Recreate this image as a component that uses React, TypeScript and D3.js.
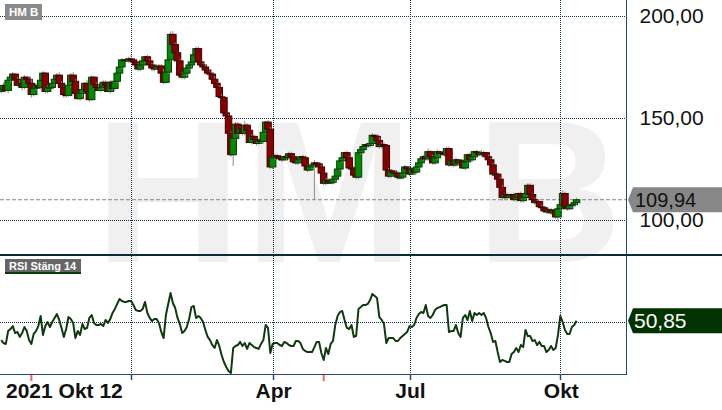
import React from "react";
import * as d3 from "d3";

// ---- data (daily, 2021-10-12 .. 2022-10-12) ----
const firstOpen = 163;
const closes = [
  164, 166, 163.5, 168.5, 170, 171.5, 169, 166, 167, 165,
  170, 169, 167, 161.5, 164.5, 166, 165, 168.5, 172, 163,
  165, 165, 167, 169, 171, 167, 165, 161.5, 161, 166,
  171, 168, 162, 159.5, 162, 164, 167, 163, 159, 170,
  166.5, 165, 163.5, 165, 167.5, 166, 163, 167.5, 164.5, 168,
  172, 175, 178.5, 178.5, 178, 179, 178.5, 177.5, 176, 174,
  176, 178, 180, 178, 176, 174.5, 174, 175, 175.5, 172,
  167.5, 172.5, 178.5, 191, 186, 182, 178, 171, 170, 172,
  174.5, 176, 177.5, 181, 184, 177.5, 176, 175, 173.5, 172,
  171.5, 169, 167, 165, 160.5, 160, 152.5, 151, 142.5, 132,
  140, 147, 142.5, 145, 142.5, 146.5, 144, 138, 141, 139.5,
  137.5, 139, 138.5, 143, 148, 144.5, 126, 130.5, 131.5, 131,
  130, 129.5, 131, 130.5, 132.5, 131, 128.5, 128, 129.5, 131,
  130.5, 126.5, 124.5, 126, 127, 128, 127.5, 126, 123, 118,
  119.5, 118.5, 118.5, 120, 121.5, 125, 129, 130.5, 133, 130.5,
  125.5, 125.5, 122, 121, 133, 134.5, 136, 137, 136.5, 137.5,
  141.5, 141, 139, 136, 137, 136.5, 124.5, 121.5, 124, 123,
  123, 121, 121, 123, 126, 125, 122.5, 125, 123.5, 126,
  128, 130, 131, 130, 133.5, 131, 128, 130.5, 133.5, 132.5,
  133, 132, 135, 127, 129, 127, 129.5, 128, 129, 125.5,
  128.5, 132, 129.5, 131, 133.5, 133, 132, 133, 133, 131,
  129.5, 127, 122.5, 122.5, 120, 116, 111, 112.5, 111, 112,
  112.5, 110, 111, 113, 109.5, 111, 113, 117, 112.5, 110,
  108.5, 109, 106.5, 106, 104.5, 104, 105, 103.5, 104.5, 101.5,
  105.5, 107.5, 113, 106.5, 105.5, 107, 107.5, 108.5, 109.94,
];
const wickUp = [
  1, 1.5, 0.5, 1, 2, 1, 0.5, 1, 1.5, 1, 1, 0.5, 1, 2, 0.5, 1, 1, 1.5, 1, 0.5, 1, 1.5, 1, 0.5, 1,
  1.5, 1, 0.5, 1, 2, 1, 1.5, 1, 0.5, 1, 1, 0.5, 1.5, 1, 1, 0.5, 1, 1.5, 0.5, 1, 1, 2, 1, 0.5, 1,
  1, 1.5, 1, 0.5, 1, 1, 2, 1, 0.5, 1, 1, 1.5, 0.5, 1, 1, 1, 0.5, 1.5, 1, 1, 2, 1, 1, 1.5, 1.5,
  1, 0.5, 1, 1.5, 1, 1, 0.5, 1, 1.5, 1, 1, 0.5, 1, 1, 0.5, 1, 1, 1.5, 0.5, 1, 1, 1, 0.5, 1, 1,
  1.5, 1, 1, 0.5, 1, 2, 1, 0.5, 1, 1, 0.5, 1, 1.5, 1, 0.5, 1, 1, 0.5, 1, 1, 0.5, 1, 1, 0.5, 1,
  1, 0.5, 1, 1, 0.5, 1, 1, 0.5, 1, 1, 1.5, 0.5, 1, 1, 0.5, 1, 1, 1.5, 1, 0.5, 1, 1, 1, 0.5, 1,
  1, 0.5, 1, 1, 1, 1.5, 1, 0.5, 1, 1, 1, 0.5, 1, 1.5, 1, 1, 0.5, 1, 1, 0.5, 1, 1, 0.5, 1, 1,
  0.5, 1, 1, 0.5, 1, 1, 0.5, 1, 1, 1.5, 1, 1, 1.5, 1, 0.5, 1, 2, 1, 1, 0.5, 1, 1, 0.5, 1, 1,
  1, 0.5, 1, 1, 0.5, 1, 1, 1.5, 1, 0.5, 1, 1, 1, 0.5, 1, 1, 1, 0.5, 1, 1, 0.5, 1, 1, 0.5, 1,
  1, 1.5, 1, 1, 0.5, 1, 1, 0.5, 1, 1, 0.5, 1, 1, 0.5, 1, 1, 1, 1.5, 1, 0.5, 1, 1, 0.5, 1,
];
const wickDn = [
  1, 0.5, 1, 1.5, 1, 1, 1, 0.5, 1, 1.5, 1, 1, 0.5, 1.5, 1, 1, 0.5, 1, 1.5, 1, 1, 0.5, 1, 1, 0.5,
  1, 1, 1.5, 1, 0.5, 1, 1, 1, 0.5, 1, 1.5, 1, 1, 1, 0.5, 1, 1, 0.5, 1, 1, 1, 0.5, 1, 1, 1.5,
  1, 0.5, 1, 1, 0.5, 1, 1, 0.5, 1, 1, 1, 0.5, 1, 1, 1, 1.5, 1, 0.5, 1, 1, 1, 0.5, 1, 1, 1,
  1, 1, 0.5, 1, 1, 1.5, 1, 1, 0.5, 1, 1, 1, 0.5, 1, 1, 1, 0.5, 1, 1, 1, 1, 0.5, 1, 1, 1,
  5.5, 1, 1, 0.5, 1, 1, 1, 0.5, 1, 1, 1, 0.5, 1, 1, 1, 0.5, 1, 1, 1, 0.5, 1, 1, 0.5, 1, 1,
  1, 0.5, 1, 1, 0.5, 1, 1, 1, 0.5, 1, 17, 1, 1, 0.5, 1, 1, 0.5, 1, 1, 1, 0.5, 1, 1, 1, 1,
  1, 0.5, 1, 1, 1, 1, 0.5, 1, 1, 1, 1, 0.5, 1, 1, 1, 1, 0.5, 1, 1, 1, 0.5, 1, 1, 1, 1,
  1, 1, 0.5, 1, 1, 1, 0.5, 1, 1, 1, 0.5, 1, 1, 1, 1, 0.5, 1, 1, 1, 0.5, 1, 1, 1, 1, 0.5,
  1, 1, 0.5, 1, 1, 1, 0.5, 1, 1, 1, 0.5, 1, 1, 1, 1, 0.5, 1.5, 1, 1, 0.5, 1, 1, 1, 0.5, 1,
  1, 1, 1, 0.5, 1, 1, 1, 0.5, 1, 1, 1, 0.5, 1, 1, 1, 2.5, 1, 1, 1, 1, 0.5, 1, 1, 1,
];
const rsi = [
  40.4, 38.8, 38.3, 45.3, 46.4, 48, 44.2, 44.8, 42.1, 44.2,
  47.5, 45.3, 40.4, 38.3, 43.7, 45.3, 48, 53.5, 43.2, 48,
  50.2, 47.5, 50.2, 52.4, 54.5, 51.3, 47, 42.1, 46.4, 52.9,
  51.8, 49.7, 41.5, 45.3, 43.2, 49.1, 46.4, 47, 52.4, 54,
  49.7, 48.6, 48.6, 49.1, 48, 51.3, 49.7, 51.8, 55.1, 57.3,
  60, 62.7, 61.6, 61.1, 61.1, 61.6, 61.6, 59.4, 56.7, 56.2,
  56.2, 57.3, 61.1, 55.1, 52.4, 50.7, 51.8, 51.8, 49.7, 44.8,
  41.5, 54, 60, 65.9, 60.5, 57.8, 52.4, 49.1, 44.2, 45.3,
  47.5, 51.8, 58.3, 58.9, 52.4, 53.5, 52.4, 50.2, 45.9, 42.1,
  40.4, 37.7, 36.1, 40.4, 37.2, 32.3, 28.5, 25.8, 23.6, 22.5,
  36.1, 37.2, 37.7, 39.4, 37.2, 38.8, 35.6, 38.8, 37.7, 36.6,
  36.1, 35.6, 38.3, 40.4, 48.6, 47, 33.4, 38.3, 38.8, 38.8,
  37.7, 37.2, 39.4, 38.8, 37.7, 37.2, 37.2, 39.9, 39.9, 38.8,
  35.6, 34.5, 33.9, 33.9, 33.9, 36.6, 39.4, 39.4, 33.4, 29.6,
  36.1, 32.8, 38.3, 39.9, 48.6, 53.5, 55.6, 56.2, 51.3, 47,
  46.4, 48.6, 42.1, 42.6, 57.3, 58.3, 59.4, 59.4, 60, 62.1,
  65.4, 64.3, 63.2, 52.9, 51.3, 49.1, 38.8, 41.5, 41.5, 41.5,
  39.9, 39.9, 41.5, 42.6, 43.7, 44.8, 48, 47.5, 48.6, 52.4,
  54.5, 55.6, 55.1, 59.4, 53.5, 52.4, 54, 56.7, 57.8, 58.3,
  58.9, 59.4, 59.4, 44.8, 45.3, 45.3, 48.6, 44.2, 42.1, 52.4,
  54, 51.3, 56.2, 50.7, 55.1, 54, 55.1, 54, 55.1, 52.4,
  47.5, 44.2, 39.4, 39.9, 33.9, 28.5, 29.6, 29.1, 28.5, 28.5,
  32.8, 33.9, 36.1, 33.9, 37.7, 36.6, 45.9, 42.6, 42.6, 39.9,
  40.4, 37.7, 39.4, 37.2, 37.2, 33.9, 35, 37.2, 35, 36.1,
  43.2, 53.5, 50.2, 45.9, 43.7, 43.7, 47.5, 48.6, 50.85,
];
const priceTicks = [100, 150, 200];
const rsiGridValue = 50;
const monthTickIdx = [56, 117, 176, 241];
const monthTickLabels = ["", "Apr", "Jul", "Okt"];
const markerIdx = [13, 139];
const startLabel = "2021 Okt 12";
const title = "HM B";
const rsiTitle = "RSI Stäng 14";
const watermark = ["H", "M", "B"];
const lastPrice = 109.94;
const lastRsi = 50.85;

const W = 722;
const H = 410;
const plotR = 626;
const FONT = "'Liberation Sans', Arial, sans-serif";
const GRID = "#0d3347";
const AXIS = "#24487a";

export default function App() {
  const x = d3.scaleLinear().domain([0, 100]).range([1.2, 233.2]);
  const yP = d3.scaleLinear().domain([100, 200]).range([220, 16]);
  const yR = d3.scaleLinear().domain([22, 86]).range([374, 256]);
  const loc = d3.formatLocale({ decimal: ",", thousands: " ", grouping: [3], currency: ["", ""] });
  const fmt = loc.format(".2f");

  const candles = closes.map((c, i) => {
    const o = i === 0 ? firstOpen : closes[i - 1];
    const hi = Math.max(o, c) + (wickUp[i] ?? 1);
    const lo = Math.min(o, c) - (wickDn[i] ?? 1);
    return { i, o, c, hi, lo, up: c >= o };
  });

  const rsiLine = d3
    .line<number>()
    .x((_, i) => x(i))
    .y((d) => yR(d))(rsi) as string;

  const pY = yP(lastPrice);
  const rY = yR(lastRsi);
  const labelShape = (yc: number) =>
    `M628,${yc} L633,${yc - 12.5} L722,${yc - 12.5} L722,${yc + 12.5} L633,${yc + 12.5} Z`;

  const wmX = [168, 329, 549];
  const bw = 6.5;

  return (
    <div style={{ position: "fixed", left: 0, top: 0 }}>
      <svg width={W} height={H} style={{ display: "block", background: "#fff" }} fontFamily={FONT}>
        <rect x={0} y={0} width={W} height={H} fill="#fff" />
        {/* watermark */}
        {watermark.map((l, k) => (
          <text key={k} x={wmX[k]} y={262} textAnchor="middle" fontSize={203} fontWeight="bold" fill="#f0f0f0">
            {l}
          </text>
        ))}
        {/* grid: price */}
        {priceTicks.map((t) => (
          <line key={t} x1={0} x2={plotR} y1={Math.round(yP(t)) + 0.5} y2={Math.round(yP(t)) + 0.5} stroke={GRID} strokeDasharray="1,1" />
        ))}
        {/* rsi grid */}
        <line x1={0} x2={plotR} y1={Math.round(yR(rsiGridValue)) + 0.5} y2={Math.round(yR(rsiGridValue)) + 0.5} stroke={GRID} strokeDasharray="1,1" />
        {/* vertical grid */}
        {monthTickIdx.map((t) => (
          <line key={t} x1={Math.round(x(t)) + 0.5} x2={Math.round(x(t)) + 0.5} y1={0} y2={374} stroke={GRID} strokeDasharray="1,1" />
        ))}
        {/* last price dashed */}
        <line x1={0} x2={plotR} y1={pY} y2={pY} stroke="#858585" strokeDasharray="4,2" />
        {/* candles */}
        {candles.map((d) => {
          const cx = x(d.i);
          const top = yP(Math.max(d.o, d.c));
          const bot = yP(Math.min(d.o, d.c));
          return (
            <g key={d.i}>
              <line x1={cx} x2={cx} y1={yP(d.hi)} y2={yP(d.lo)} stroke="#8c8c8c" strokeWidth={1} />
              <rect
                x={cx - bw / 2}
                y={top}
                width={bw}
                height={Math.max(1, bot - top)}
                fill={d.up ? "#008a00" : "#870000"}
                stroke={d.up ? "#0a3a0a" : "#3f0000"}
                strokeWidth={1}
              />
            </g>
          );
        })}
        {/* axis lines */}
        <line x1={plotR + 0.5} x2={plotR + 0.5} y1={0} y2={374} stroke={AXIS} strokeWidth={1} />
        <line x1={0} x2={plotR + 1} y1={374.5} y2={374.5} stroke={AXIS} strokeWidth={1} />
        {/* separator */}
        <rect x={0} y={254} width={W} height={2} fill="#0b2a3a" />
        {/* rsi line */}
        <path d={rsiLine} fill="none" stroke="#0f3a0f" strokeWidth={2} strokeLinejoin="round" />
        {/* price axis labels */}
        {priceTicks.map((t) => (
          <text key={t} x={639.5} y={yP(t) + 7} fontSize={21} fill="#111">
            {fmt(t)}
          </text>
        ))}
        {/* last price label */}
        <path d={labelShape(pY)} fill="#878787" />
        <text x={635} y={pY + 7} fontSize={20} fill="#111">
          {fmt(lastPrice)}
        </text>
        {/* last rsi label */}
        <path d={labelShape(rY)} fill="#003300" />
        <text x={634} y={rY + 7.5} fontSize={21} fill="#fff">
          {fmt(lastRsi)}
        </text>
        {/* x ticks */}
        {monthTickIdx.map((t) => (
          <line key={t} x1={Math.round(x(t)) + 0.5} x2={Math.round(x(t)) + 0.5} y1={375} y2={380} stroke={AXIS} strokeWidth={1.5} />
        ))}
        {markerIdx.map((t) => (
          <line key={t} x1={x(t)} x2={x(t)} y1={375} y2={381} stroke="#ff5c5c" strokeWidth={2} />
        ))}
        {monthTickIdx.map((t, k) =>
          monthTickLabels[k] ? (
            <text key={t} x={x(t) + 1} y={398} textAnchor="middle" fontSize={21} fontWeight="bold" fill="#111">
              {monthTickLabels[k]}
            </text>
          ) : null
        )}
        <text x={6} y={398} fontSize={21} fontWeight="bold" fill="#111">
          {startLabel}
        </text>
        {/* panel titles */}
        <rect x={5} y={4} width={37} height={16} fill="#8a8a8a" />
        <text x={9} y={16.3} fontSize={11.5} fontWeight="bold" fill="#fff">
          {title}
        </text>
        <rect x={5} y={259} width={76} height={13} fill="#666" />
        <rect x={5} y={272} width={76} height={2} fill="#0b3b0b" />
        <text x={9} y={270} fontSize={11} fontWeight="bold" fill="#fff">
          {rsiTitle}
        </text>
      </svg>
    </div>
  );
}
